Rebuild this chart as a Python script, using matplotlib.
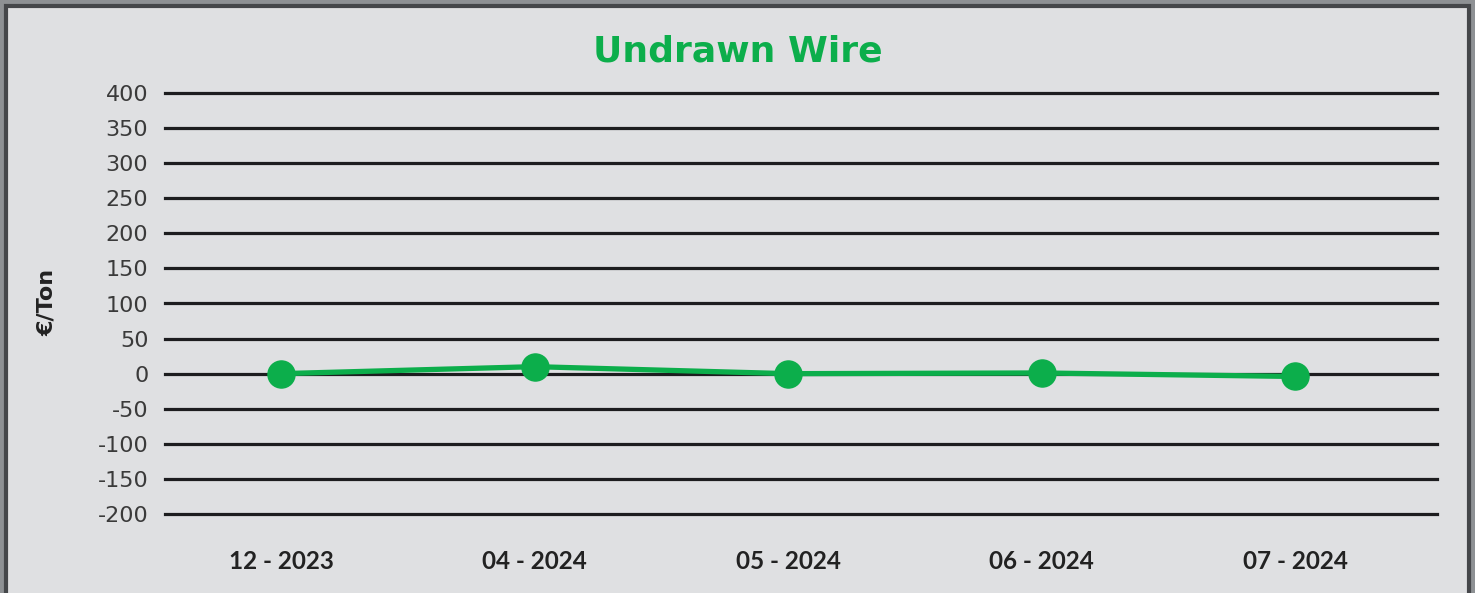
import matplotlib
matplotlib.use("Agg")
import matplotlib.pyplot as plt
from matplotlib.patches import Rectangle

# data
periods = ['12 - 2023', '04 - 2024', '05 - 2024', '06 - 2024', '07 - 2024']
values = [0, 10, 0, 1, -4]
yticks = [400, 350, 300, 250, 200, 150, 100, 50, 0, -50, -100, -150, -200]

green = '#0cae4b'
W, H = 1475, 593

plt.rcParams['font.family'] = ['Lato', 'DejaVu Sans']

fig = plt.figure(figsize=(W / 100, H / 100), dpi=100)
fig.patch.set_facecolor('#8e9194')

# inner panel with dark frame, kept behind the axes
panel = Rectangle((6 / W, -0.05), (W - 12) / W, 1 - 6 / H + 0.05,
                  transform=fig.transFigure, facecolor='#dfe0e2',
                  edgecolor='#45474a', linewidth=3, zorder=-10)
fig.patches.append(panel)

ax = fig.add_axes([165 / W, 1 - 514 / H, (1437 - 165) / W, (514 - 93) / H])
ax.set_facecolor('none')
ax.set_zorder(5)
x = list(range(len(periods)))

for t in yticks:
    ax.axhline(t, color='#1d1d1f', linewidth=2.3, zorder=1, clip_on=False)

ax.plot(x, values, color=green, linewidth=3.8, marker='o', markersize=19.5,
        zorder=3)

ax.set_ylim(-200, 400)
ax.set_xlim(-0.458, 4.56)
ax.set_yticks(yticks)
ax.set_yticklabels([str(t) for t in yticks], fontsize=16, color='#3a3a3a',
                   family='DejaVu Sans')
ax.set_xticks(x)
ax.set_xticklabels(periods, fontsize=17.5, fontweight='bold', color='#222222')
ax.tick_params(axis='y', length=0, pad=12)
ax.tick_params(axis='x', length=0, pad=26)
for s in ax.spines.values():
    s.set_visible(False)

fig.text(47 / W, 1 - 302 / H, '€/Ton', rotation=90, ha='center', va='center',
         fontsize=16, fontweight='bold', color='#222222', family='DejaVu Sans')
fig.text(738 / W, 1 - 52 / H, 'Undrawn Wire', ha='center', va='center',
         fontsize=26, fontweight='bold', color=green, family='DejaVu Sans')

fig.savefig('out.png', dpi=100, facecolor=fig.get_facecolor())
